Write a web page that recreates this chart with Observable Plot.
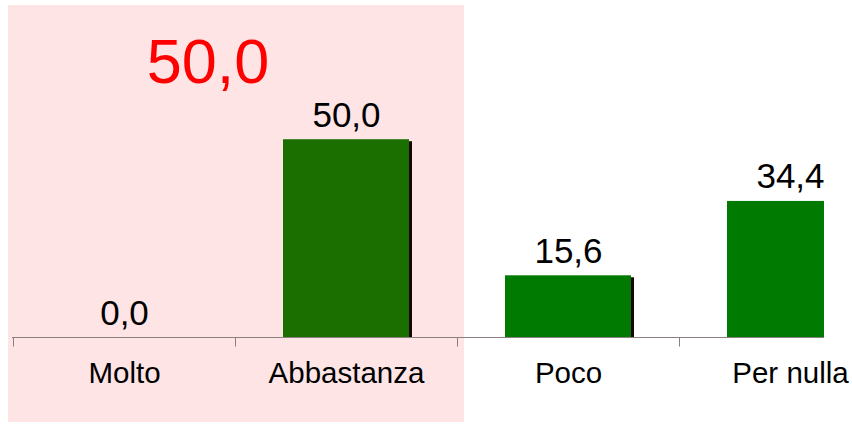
<!DOCTYPE html>
<html><head><meta charset="utf-8">
<script src="https://cdn.jsdelivr.net/npm/d3@7"></script>
<script src="https://cdn.jsdelivr.net/npm/@observablehq/plot@0.6"></script>
<style>body{margin:0;background:#fff} svg{display:block}</style>
</head><body><div id="chart"></div>
<script>
const categories = ["Molto", "Abbastanza", "Poco", "Per nulla"];
const values = [0.0, 50.0, 15.6, 34.4];
const highlighted = ["Molto", "Abbastanza"];

const data = categories.map((c, i) => ({cat: c, value: values[i], hl: highlighted.includes(c)}));
const highlightTotal = d3.sum(data.filter(d => d.hl), d => d.value);
const fmt = v => v.toFixed(1).replace(".", ",");

const padInner = 0.432;

function categoryStep(x) {
  return x(categories[1]) - x(categories[0]);
}

function background(index, scales, vals, dim) {
  const x = scales.x;
  const step = categoryStep(x);
  const off = step * padInner / 2;
  const x0 = x(highlighted[0]) - off - 5;
  const x1 = x(highlighted[highlighted.length - 1]) + x.bandwidth() + off + 7;
  const g = d3.create("svg:g");
  g.append("rect").attr("x", x0).attr("y", 5).attr("width", x1 - x0)
    .attr("height", dim.height - 8).attr("fill", "#fee4e4");
  return g.node();
}

function baseline(index, scales, vals, dim) {
  const x = scales.x, y = scales.y;
  const step = categoryStep(x);
  const off = step * padInner / 2;
  const y0 = Math.round(y(0)) + 0.5;
  const g = d3.create("svg:g").attr("stroke", "#8a8080").attr("stroke-width", 1);
  g.append("line").attr("x1", dim.marginLeft).attr("x2", dim.width - dim.marginRight)
    .attr("y1", y0).attr("y2", y0);
  for (const c of categories) {
    const xt = Math.round(x(c) - off) + 0.5;
    if (xt > dim.width - dim.marginRight) continue;
    g.append("line").attr("x1", xt).attr("x2", xt).attr("y1", y0).attr("y2", y0 + 9);
  }
  return g.node();
}

const chart = Plot.plot({
  width: 852,
  height: 425,
  marginLeft: 12,
  marginRight: 28,
  marginTop: 0,
  marginBottom: 88,
  style: {fontFamily: "'Liberation Sans', Arial, sans-serif", background: "#fff"},
  x: {domain: categories, range: [12, 903], paddingInner: padInner, paddingOuter: padInner / 2, axis: null},
  y: {domain: [0, 85.2], axis: null},
  marks: [
    background,
    Plot.barY(data, {x: "cat", y: "value", fill: "#1a0505", dx: 3, dy: 2, clip: true}),
    Plot.barY(data, {x: "cat", y: "value", fill: d => d.hl ? "#1b6e00" : "#007a00", clip: true}),
    baseline,
    Plot.text(data, {x: "cat", y: "value", text: d => fmt(d.value), lineAnchor: "bottom", dy: -13, fontSize: 35, fill: "#000"}),
    Plot.text(data, {x: "cat", y: () => 0, text: "cat", lineAnchor: "bottom", dy: 45, fontSize: 29.5, fill: "#000"}),
    Plot.text([fmt(highlightTotal)], {frameAnchor: "top-left", text: d => d, dx: 195.5, dy: 82, textAnchor: "middle", lineAnchor: "bottom", fontSize: 63, fill: "#ff0000"})
  ]
});
document.getElementById("chart").appendChild(chart);
</script>
</body></html>
